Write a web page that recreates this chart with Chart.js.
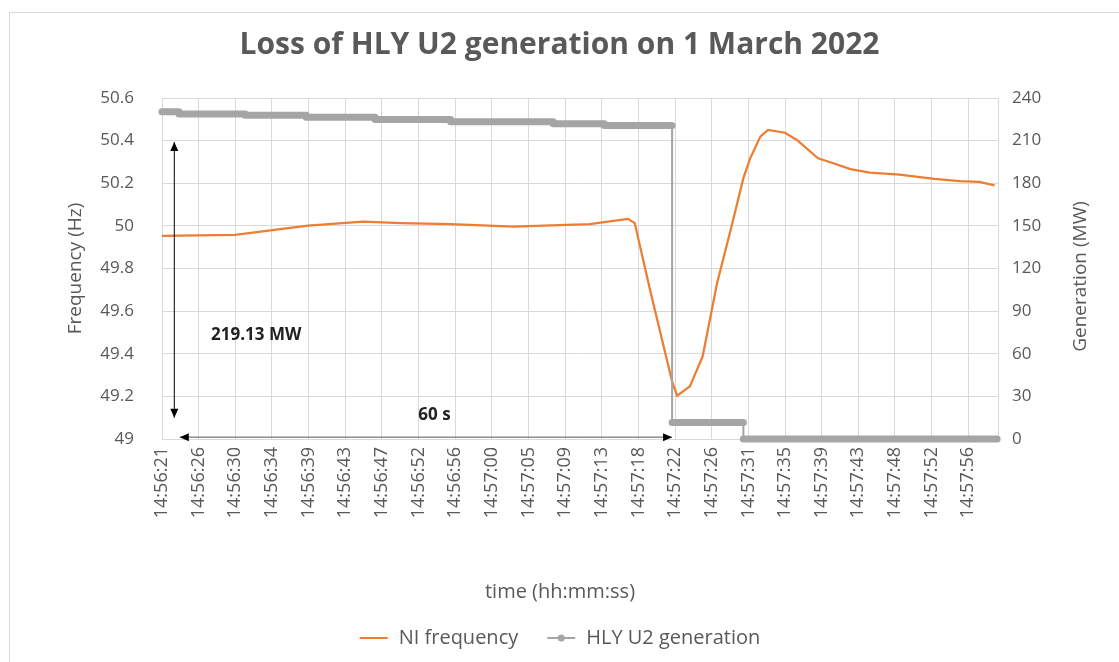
<!DOCTYPE html>
<html>
<head>
<meta charset="utf-8">
<script src="https://cdn.jsdelivr.net/npm/chart.js@4.4.1/dist/chart.umd.min.js"></script>
<style>
  html, body { margin: 0; padding: 0; background: #fff; }
  #frame { position: absolute; left: 9px; top: 12px; width: 1200px; height: 700px; border: 1px solid #d9d9d9; }
  #wrap { position: absolute; left: 0; top: 0; width: 1119px; height: 662px; }
</style>
</head>
<body>
<div id="frame"></div>
<div id="wrap"><canvas id="chart" width="1119" height="662"></canvas></div>
<script>
// seconds after 14:56:21
const freqTime = [0, 8.6, 17.2, 23.7, 28.2, 34.0, 41.4, 50.4, 54.9, 55.7, 57.5, 60.1, 60.7, 62.2, 63.7, 65.4, 67.1, 68.5, 69.3, 70.5, 71.4, 73.4, 74.8, 77.3, 79.1, 81.1, 83.4, 86.9, 91.0, 94.0, 96.3, 98.1];
const freqHz = [49.953, 49.958, 50.001, 50.02, 50.013, 50.008, 49.997, 50.008, 50.033, 50.013, 49.70, 49.27, 49.203, 49.247, 49.387, 49.731, 49.997, 50.224, 50.317, 50.419, 50.45, 50.437, 50.403, 50.317, 50.294, 50.266, 50.25, 50.24, 50.22, 50.21, 50.206, 50.19];

const genTime = [0, 2.0, 2.0, 9.8, 9.8, 17.0, 17.0, 25.1, 25.1, 34.0, 34.0, 46.1, 46.1, 52.1, 52.1, 60.1, 60.1, 68.5, 68.5, 98.4];
const genMW = [230.3, 230.3, 228.8, 228.8, 227.8, 227.8, 226.4, 226.4, 224.9, 224.9, 223.2, 223.2, 221.9, 221.9, 220.7, 220.7, 11.7, 11.7, 0, 0];

const tickLabels = ['14:56:21', '14:56:26', '14:56:30', '14:56:34', '14:56:39', '14:56:43', '14:56:47', '14:56:52',
  '14:56:56', '14:57:00', '14:57:05', '14:57:09', '14:57:13', '14:57:18', '14:57:22', '14:57:26', '14:57:31',
  '14:57:35', '14:57:39', '14:57:43', '14:57:48', '14:57:52', '14:57:56'];

const ORANGE = '#ED7D31';
const GRAY = '#A5A5A5';
const TEXT = '#595959';
const GRID = '#d9d9d9';

function secs(label) {
  const [h, m, s] = label.split(':').map(Number);
  return h * 3600 + m * 60 + s;
}
const span = secs(tickLabels[tickLabels.length - 1]) - secs(tickLabels[0]);
const tickStep = span / (tickLabels.length - 1);

function legendIcon(color, dot) {
  const c = document.createElement('canvas');
  c.width = 30; c.height = 12;
  const g = c.getContext('2d');
  g.strokeStyle = color;
  g.lineWidth = 2;
  g.beginPath(); g.moveTo(1, 6); g.lineTo(29, 6); g.stroke();
  if (dot) {
    g.fillStyle = color;
    g.beginPath(); g.arc(15, 6, 3.5, 0, Math.PI * 2); g.fill();
  }
  return c;
}

function arrow(ctx, x1, y1, x2, y2) {
  const head = (hx, hy, ang) => {
    ctx.beginPath();
    ctx.moveTo(hx, hy);
    ctx.lineTo(hx - 9 * Math.cos(ang) + 4 * Math.sin(ang), hy - 9 * Math.sin(ang) - 4 * Math.cos(ang));
    ctx.lineTo(hx - 9 * Math.cos(ang) - 4 * Math.sin(ang), hy - 9 * Math.sin(ang) + 4 * Math.cos(ang));
    ctx.closePath();
    ctx.fill();
  };
  const ang = Math.atan2(y2 - y1, x2 - x1);
  ctx.beginPath(); ctx.moveTo(x1, y1); ctx.lineTo(x2, y2); ctx.stroke();
  head(x2, y2, ang);
  head(x1, y1, ang + Math.PI);
}

const notesPlugin = {
  id: 'notes',
  afterDraw(chart) {
    const { ctx, chartArea } = chart;
    const x = chart.scales.x;
    const y1 = chart.scales.y1;
    ctx.save();
    ctx.strokeStyle = '#000';
    ctx.fillStyle = '#000';
    ctx.lineWidth = 1;
    // 219.13 MW arrow
    arrow(ctx, x.getPixelForValue(1.45), y1.getPixelForValue(209), x.getPixelForValue(1.45), y1.getPixelForValue(15));
    // 60 s arrow
    ctx.strokeStyle = '#555';
    arrow(ctx, x.getPixelForValue(2.1), y1.getPixelForValue(1.3), x.getPixelForValue(60.1), y1.getPixelForValue(1.3));
    ctx.fillStyle = '#222';
    ctx.font = "bold 17px 'Open Sans'";
    ctx.textAlign = 'center';
    ctx.textBaseline = 'middle';
    ctx.fillText('219.13 MW', x.getPixelForValue(11.1), y1.getPixelForValue(73));
    ctx.fillText('60 s', x.getPixelForValue(32.1), y1.getPixelForValue(17));

    // axis titles
    ctx.fillStyle = TEXT;
    ctx.font = "20px 'Open Sans'";
    ctx.fillText('time (hh:mm:ss)', 560, 592);
    ctx.font = "19px 'Open Sans'";
    ctx.translate(1081, (chartArea.top + chartArea.bottom) / 2 + 8);
    ctx.rotate(-Math.PI / 2);
    ctx.fillText('Generation (MW)', 0, 0);
    ctx.restore();
  }
};

Chart.defaults.font.family = "'Open Sans', sans-serif";
Chart.defaults.color = TEXT;

new Chart(document.getElementById('chart'), {
  type: 'line',
  data: {
    datasets: [
      {
        label: 'NI frequency',
        data: freqTime.map((t, i) => ({ x: t, y: freqHz[i] })),
        borderColor: ORANGE,
        backgroundColor: ORANGE,
        borderWidth: 2.25,
        pointRadius: 0,
        tension: 0,
        yAxisID: 'y',
        order: 1,
      },
      {
        label: 'HLY U2 generation',
        data: genTime.map((t, i) => ({ x: t, y: genMW[i] })),
        borderColor: GRAY,
        backgroundColor: GRAY,
        borderWidth: 7,
        borderCapStyle: 'round',
        borderJoinStyle: 'round',
        pointRadius: 0,
        yAxisID: 'y1',
        order: 0,
        clip: 10,
        segment: {
          borderWidth: (c) => (c.p0.parsed.x === c.p1.parsed.x ? 2 : 7),
        },
      },
    ],
  },
  options: {
    responsive: false,
    animation: false,
    events: [],
    layout: { padding: { left: 0, right: 0, top: 0, bottom: 4 } },
    plugins: {
      title: {
        display: true,
        text: 'Loss of HLY U2 generation on 1 March 2022',
        color: TEXT,
        font: { size: 30, weight: 'bold' },
        padding: { top: 27, bottom: 35 },
      },
      legend: {
        position: 'bottom',
        labels: {
          color: TEXT,
          font: { size: 20 },
          usePointStyle: true,
          pointStyleWidth: 30,
          padding: 28,
          generateLabels: () => [
            { text: 'NI frequency', pointStyle: legendIcon(ORANGE, false), fontColor: TEXT, datasetIndex: 0, lineWidth: 0 },
            { text: 'HLY U2 generation', pointStyle: legendIcon(GRAY, true), fontColor: TEXT, datasetIndex: 1, lineWidth: 0 },
          ],
        },
      },
      tooltip: { enabled: false },
    },
    scales: {
      x: {
        type: 'linear',
        min: 0,
        max: 98.5,
        afterBuildTicks: (axis) => {
          axis.ticks = tickLabels.map((_, i) => ({ value: i * tickStep }));
        },
        afterFit: (s) => { s.height = 161; },
        ticks: {
          autoSkip: false,
          minRotation: 90,
          maxRotation: 90,
          padding: 8,
          color: TEXT,
          font: { size: 18 },
          callback: (v, i) => tickLabels[i],
        },
        grid: { color: GRID, drawTicks: false },
        border: { color: GRID },
      },
      y: {
        position: 'left',
        min: 49,
        max: 50.6,
        afterFit: (s) => { s.width = 162; },
        ticks: {
          stepSize: 0.2,
          padding: 28,
          color: TEXT,
          font: { size: 17 },
          callback: (v) => String(Math.round(v * 10) / 10),
        },
        grid: { color: GRID, drawTicks: false },
        border: { color: GRID },
        title: {
          display: true,
          text: 'Frequency (Hz)',
          color: TEXT,
          font: { size: 19 },
          padding: { top: 64, bottom: 0 },
        },
      },
      y1: {
        position: 'right',
        min: 0,
        max: 240,
        afterFit: (s) => { s.width = 121; },
        ticks: {
          stepSize: 30,
          padding: 14,
          color: TEXT,
          font: { size: 17 },
        },
        grid: { drawOnChartArea: false, drawTicks: false },
        border: { color: GRID },
      },
    },
  },
  plugins: [notesPlugin],
});
</script>
</body>
</html>
